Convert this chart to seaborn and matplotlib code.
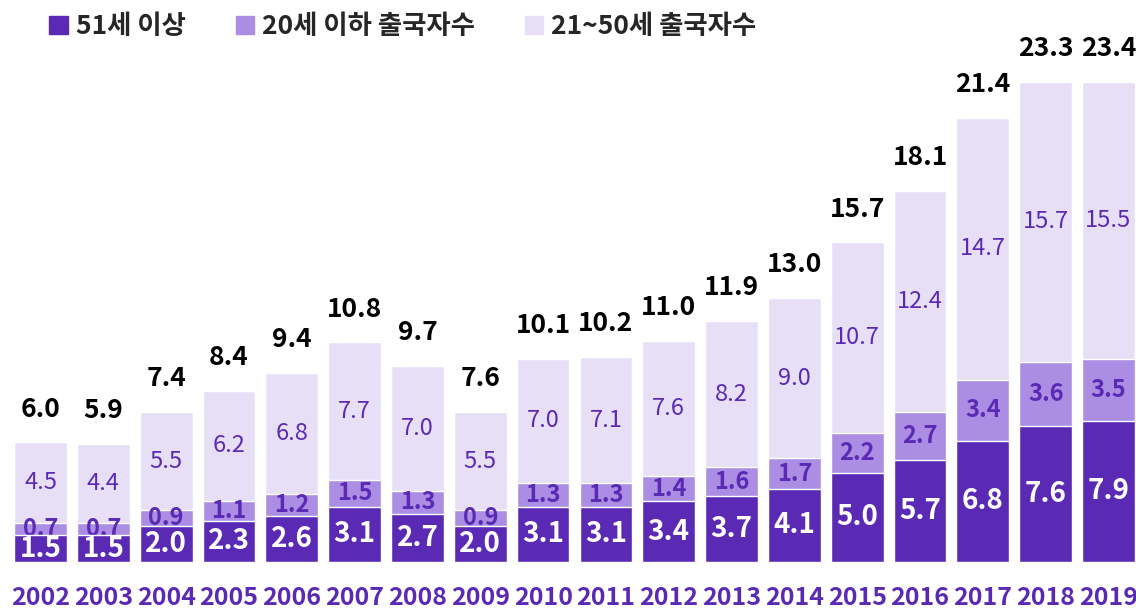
import numpy as np
import pandas as pd
import matplotlib
matplotlib.use('Agg')
import matplotlib.pyplot as plt
from matplotlib.patches import Patch
import seaborn as sns

# Data
years = ['2002', '2003', '2004', '2005', '2006', '2007', '2008', '2009', '2010',
         '2011', '2012', '2013', '2014', '2015', '2016', '2017', '2018', '2019']
age_51_plus = [1.5, 1.5, 2.0, 2.3, 2.6, 3.1, 2.7, 2.0, 3.1, 3.1, 3.4, 3.7, 4.1, 5.0, 5.7, 6.8, 7.6, 7.9]
age_under_20 = [0.7, 0.7, 0.9, 1.1, 1.2, 1.5, 1.3, 0.9, 1.3, 1.3, 1.4, 1.6, 1.7, 2.2, 2.7, 3.4, 3.6, 3.5]
age_21_50 = [4.5, 4.4, 5.5, 6.2, 6.8, 7.7, 7.0, 5.5, 7.0, 7.1, 7.6, 8.2, 9.0, 10.7, 12.4, 14.7, 15.7, 15.5]
totals = [6.0, 5.9, 7.4, 8.4, 9.4, 10.8, 9.7, 7.6, 10.1, 10.2, 11.0, 11.9, 13.0, 15.7, 18.1, 21.4, 23.3, 23.4]

legend_labels = ['51세 이상', '20세 이하 출국자수', '21~50세 출국자수']

DARK = '#5b2ab5'
MID = '#ab8ee3'
LIGHT = '#e6dff6'

sns.set_style('white')
plt.rcParams['font.family'] = ['Noto Sans CJK KR', 'DejaVu Sans']

df = pd.DataFrame({'year': years, 'old': age_51_plus, 'young': age_under_20, 'mid': age_21_50})
df['top_young'] = df['old'] + df['young']
df['top_all'] = df['top_young'] + df['mid']

fig = plt.figure(figsize=(11.36, 6.10), dpi=100)
ax = fig.add_axes([0, 48 / 610, 1, 562 / 610])

# stacked bars drawn as overlapping cumulative bars
sns.barplot(data=df, x='year', y='top_all', color=LIGHT, width=0.84, saturation=1, ax=ax, zorder=1)
sns.barplot(data=df, x='year', y='top_young', color=MID, width=0.84, saturation=1, ax=ax, zorder=2)
sns.barplot(data=df, x='year', y='old', color=DARK, width=0.84, saturation=1, ax=ax, zorder=4)

for i in range(len(years)):
    ax.text(i, df['old'][i] / 2, f"{age_51_plus[i]:.1f}", ha='center', va='center',
            color='white', fontsize=20, fontweight='bold', zorder=5)
    ax.text(i, df['old'][i] + age_under_20[i] / 2, f"{age_under_20[i]:.1f}", ha='center', va='center',
            color=DARK, fontsize=17, fontweight='bold', zorder=3)
    ax.text(i, df['top_young'][i] + age_21_50[i] / 2, f"{age_21_50[i]:.1f}", ha='center', va='center',
            color=DARK, fontsize=17, zorder=3)
    ax.annotate(f"{totals[i]:.1f}", (i, df['top_all'][i]), xytext=(0, 24), textcoords='offset points',
                ha='center', va='center', color='black', fontsize=19, fontweight='bold')

ax.set_xlim(-0.645, 17.438)
ax.set_ylim(0, 562 / 17.85)
ax.set_xlabel('')
ax.set_ylabel('')
ax.set_yticks([])
ax.tick_params(axis='x', length=0, pad=17)
for lab in ax.get_xticklabels():
    lab.set_color(DARK)
    lab.set_fontweight('bold')
    lab.set_fontsize(18)
sns.despine(ax=ax, left=True, bottom=True)

handles = [Patch(color=DARK), Patch(color=MID), Patch(color=LIGHT)]
fig.legend(handles, legend_labels, loc='upper left', bbox_to_anchor=(36 / 1136, 1.0),
           ncol=3, frameon=False, prop={'size': 19, 'weight': 'bold'},
           handlelength=0.7, handleheight=0.7, handletextpad=0.3, columnspacing=1.9,
           borderaxespad=0.1)

fig.savefig('out.png', dpi=100)
